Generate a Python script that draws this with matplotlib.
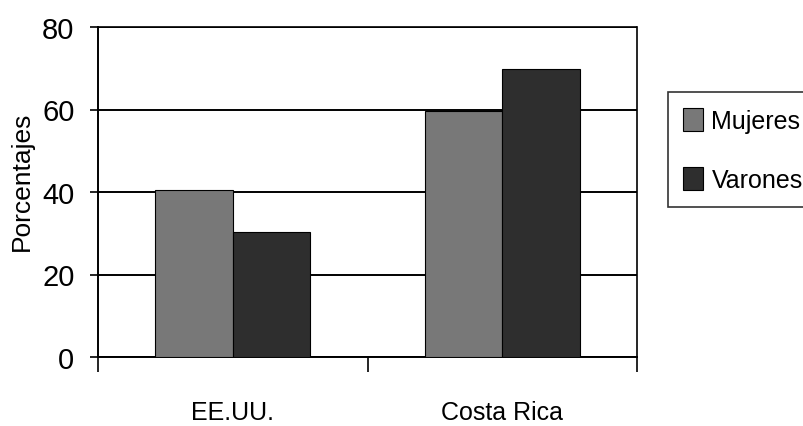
import numpy as np
import matplotlib
matplotlib.use("Agg")
import matplotlib.pyplot as plt
from matplotlib.patches import Patch

# datos
paises = ["EE.UU.", "Costa Rica"]
mujeres = [40.5, 59.6]
varones = [30.3, 69.8]
series = ["Mujeres", "Varones"]
yticks = [0, 20, 40, 60, 80]

plt.rcParams["font.family"] = ["Liberation Sans", "DejaVu Sans"]

fig = plt.figure(figsize=(8.04, 4.27), dpi=100)
ax = fig.add_axes([98 / 804, 1 - 358 / 427, 539 / 804, 330 / 427])

x = np.arange(len(paises))
ancho = 0.288
c_muj = "#787878"
c_var = "#2e2e2e"
ax.bar(x - ancho / 2, mujeres, ancho, color=c_muj, edgecolor="black", linewidth=0.8, zorder=3)
ax.bar(x + ancho / 2, varones, ancho, color=c_var, edgecolor="black", linewidth=0.8, zorder=3)

ax.set_xlim(-0.5, len(paises) - 0.5)
ax.set_ylim(0, 80)
ax.set_yticks(yticks)
ax.tick_params(axis="y", labelsize=21, length=6, width=1.2, pad=11, direction="out")
ax.yaxis.grid(True, color="black", linewidth=1.4, zorder=1)

# etiquetas en el centro, marcas en los limites de categoria
ax.set_xticks(x)
ax.set_xticklabels(paises)
ax.tick_params(axis="x", which="major", length=0, labelsize=18, pad=31)
ax.set_xticks(np.arange(len(paises) + 1) - 0.5, minor=True)
ax.tick_params(axis="x", which="minor", length=11, width=1.2, direction="out")

for s in ["left", "bottom"]:
    ax.spines[s].set_linewidth(1.4)
for s in ["top", "right"]:
    ax.spines[s].set_linestyle((0, (2, 1)))
    ax.spines[s].set_linewidth(1.2)

fig.text(22 / 804, 1 - 181 / 427, "Porcentajes", rotation=90, ha="center", va="center", fontsize=19)

handles = [Patch(facecolor=c_muj, edgecolor="black", linewidth=0.8),
           Patch(facecolor=c_var, edgecolor="black", linewidth=0.8)]
leg = fig.legend(handles, series, loc="upper left", bbox_to_anchor=(668 / 804, 1 - 93 / 427),
                 fontsize=18, frameon=True, fancybox=False, edgecolor="black",
                 handlelength=0.8, handleheight=1.05, handletextpad=0.32,
                 labelspacing=1.36, borderpad=0.62, borderaxespad=0)
leg.get_frame().set_linewidth(1.2)

fig.savefig("out.png", dpi=100)
